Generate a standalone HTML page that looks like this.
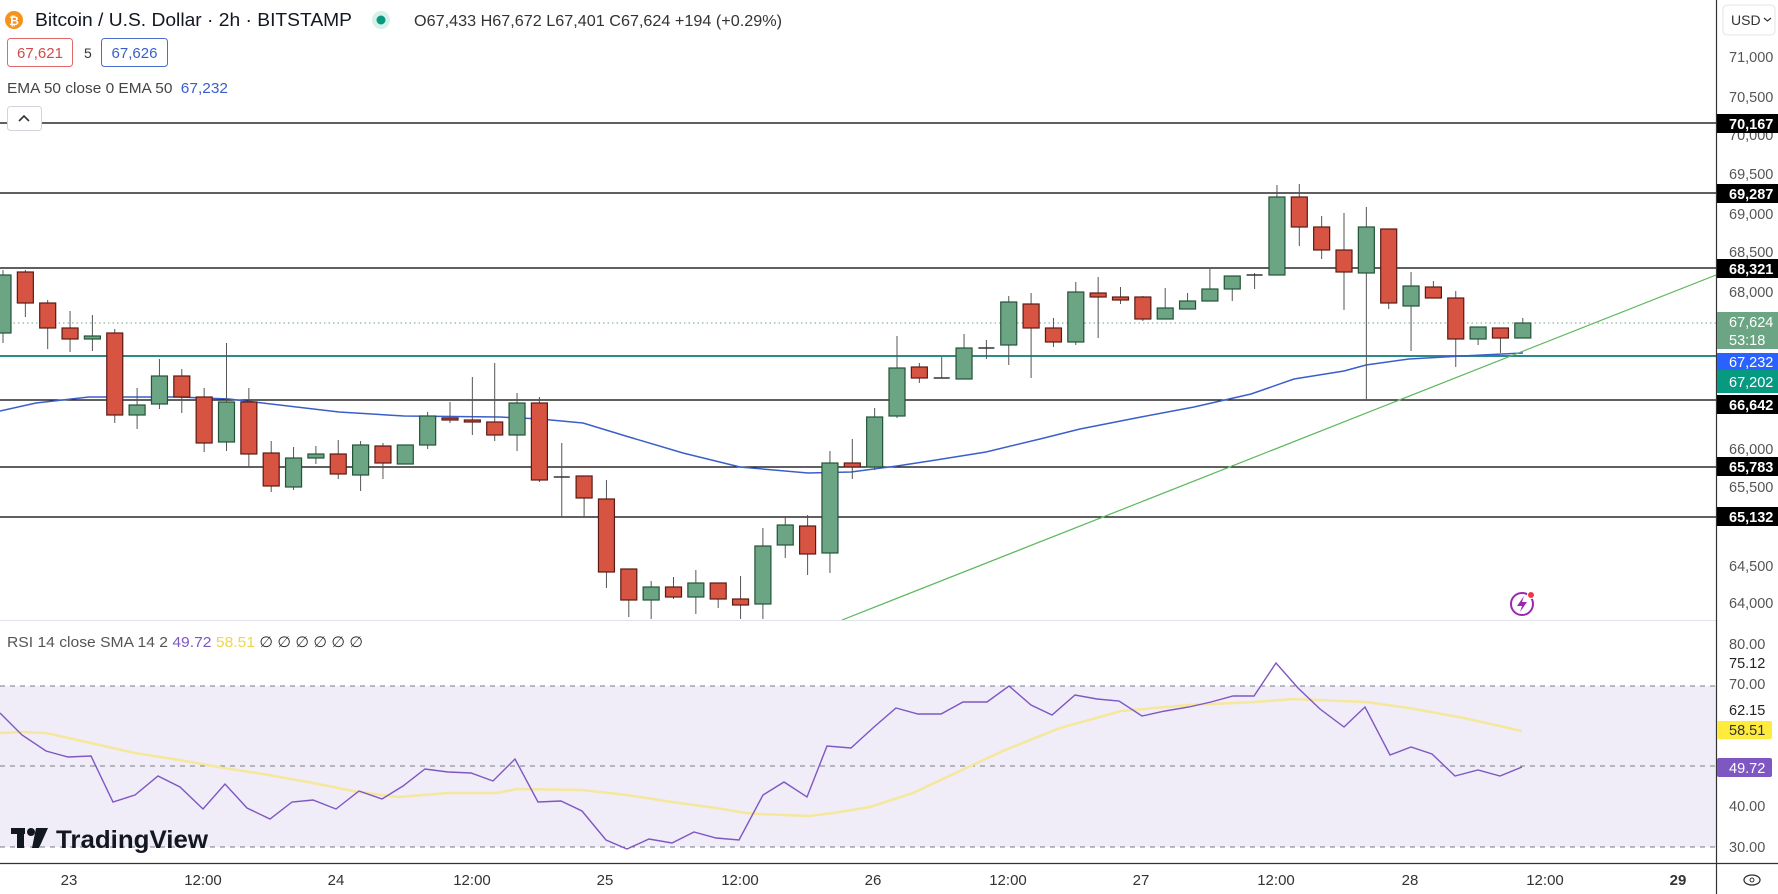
<!DOCTYPE html>
<html><head><meta charset="utf-8"><style>
html,body{margin:0;padding:0;background:#fff;width:1778px;height:894px;overflow:hidden;font-family:"Liberation Sans",sans-serif;}
svg{position:absolute;left:0;top:0}
</style></head><body>
<svg width="1778" height="894" viewBox="0 0 1778 894" xmlns="http://www.w3.org/2000/svg" font-family="Liberation Sans, sans-serif">
<defs><clipPath id="c"><rect x="0" y="0" width="1716" height="620"/></clipPath><clipPath id="r"><rect x="0" y="621" width="1716" height="242"/></clipPath></defs>
<g stroke="#000" stroke-width="1.3">
<line x1="0" y1="123" x2="1716" y2="123"/><line x1="0" y1="193" x2="1716" y2="193"/><line x1="0" y1="268" x2="1716" y2="268"/>
<line x1="0" y1="400" x2="1716" y2="400"/><line x1="0" y1="467" x2="1716" y2="467"/><line x1="0" y1="517" x2="1716" y2="517"/>
</g>
<line x1="0" y1="323" x2="1716" y2="323" stroke="#6ba583" stroke-dasharray="1.5 3" stroke-width="1"/>
<line x1="0" y1="356" x2="1716" y2="356" stroke="#2a8a8c" stroke-width="2"/>
<g clip-path="url(#c)">
<polyline fill="none" stroke="#3a5fc8" stroke-width="1.5" points="0,411 36,403 89,397 179,397 229,399 339,412 404,416 500,417 540,419 583,423 629,437 683,453 740,467 808,473 851,472 897,466 936,460 986,452 1040,439 1080,429 1141,417 1194,407 1251,394 1294,379 1344,371 1366,365 1409,359 1462,356 1523,353"/>
<line x1="842" y1="620" x2="1716" y2="275" stroke="#5cb85c" stroke-width="1.2"/>
<g stroke="#555" stroke-width="1">
<line x1="3" y1="270" x2="3" y2="343"/><line x1="25.35" y1="270" x2="25.35" y2="317"/><line x1="47.7" y1="300" x2="47.7" y2="349"/><line x1="70.05" y1="311" x2="70.05" y2="352"/><line x1="92.4" y1="315" x2="92.4" y2="351"/><line x1="114.75" y1="329" x2="114.75" y2="423"/><line x1="137.1" y1="388" x2="137.1" y2="429"/><line x1="159.45" y1="359" x2="159.45" y2="409"/><line x1="181.8" y1="369" x2="181.8" y2="413"/><line x1="204.15" y1="388" x2="204.15" y2="452"/><line x1="226.5" y1="343" x2="226.5" y2="451"/><line x1="248.85" y1="388" x2="248.85" y2="467"/><line x1="271.2" y1="441" x2="271.2" y2="492"/><line x1="293.55" y1="447" x2="293.55" y2="490"/><line x1="315.9" y1="446" x2="315.9" y2="464"/><line x1="338.25" y1="440" x2="338.25" y2="479"/><line x1="360.6" y1="441" x2="360.6" y2="491"/><line x1="382.95" y1="443" x2="382.95" y2="479"/><line x1="405.3" y1="445" x2="405.3" y2="464"/><line x1="427.65" y1="412" x2="427.65" y2="449"/><line x1="450" y1="402" x2="450" y2="423"/><line x1="472.35" y1="377" x2="472.35" y2="435"/><line x1="494.7" y1="363" x2="494.7" y2="441"/><line x1="517.05" y1="393" x2="517.05" y2="451"/><line x1="539.4" y1="397" x2="539.4" y2="482"/><line x1="561.75" y1="443" x2="561.75" y2="517"/><line x1="584.1" y1="476" x2="584.1" y2="518"/><line x1="606.45" y1="480" x2="606.45" y2="588"/><line x1="628.8" y1="569" x2="628.8" y2="617"/><line x1="651.15" y1="581" x2="651.15" y2="619"/><line x1="673.5" y1="577" x2="673.5" y2="599"/><line x1="695.85" y1="570" x2="695.85" y2="614"/><line x1="718.2" y1="583" x2="718.2" y2="608"/><line x1="740.55" y1="576" x2="740.55" y2="619"/><line x1="762.9" y1="528" x2="762.9" y2="619"/><line x1="785.25" y1="516" x2="785.25" y2="558"/><line x1="807.6" y1="515" x2="807.6" y2="575"/><line x1="829.95" y1="451" x2="829.95" y2="573"/><line x1="852.3" y1="439" x2="852.3" y2="479"/><line x1="874.65" y1="408" x2="874.65" y2="470"/><line x1="897" y1="336" x2="897" y2="418"/><line x1="919.35" y1="363" x2="919.35" y2="383"/><line x1="941.7" y1="357" x2="941.7" y2="378"/><line x1="964.05" y1="334" x2="964.05" y2="379"/><line x1="986.4" y1="340" x2="986.4" y2="359"/><line x1="1008.75" y1="296" x2="1008.75" y2="365"/><line x1="1031.1" y1="293" x2="1031.1" y2="378"/><line x1="1053.45" y1="318" x2="1053.45" y2="347"/><line x1="1075.8" y1="282" x2="1075.8" y2="345"/><line x1="1098.15" y1="277" x2="1098.15" y2="338"/><line x1="1120.5" y1="287" x2="1120.5" y2="304"/><line x1="1142.85" y1="296" x2="1142.85" y2="321"/><line x1="1165.2" y1="288" x2="1165.2" y2="319"/><line x1="1187.55" y1="293" x2="1187.55" y2="309"/><line x1="1209.9" y1="269" x2="1209.9" y2="301"/><line x1="1232.25" y1="276" x2="1232.25" y2="301"/><line x1="1254.6" y1="273" x2="1254.6" y2="289"/><line x1="1276.95" y1="185" x2="1276.95" y2="275"/><line x1="1299.3" y1="184" x2="1299.3" y2="246"/><line x1="1321.65" y1="216" x2="1321.65" y2="259"/><line x1="1344" y1="213" x2="1344" y2="310"/><line x1="1366.35" y1="207" x2="1366.35" y2="400"/><line x1="1388.7" y1="229" x2="1388.7" y2="309"/><line x1="1411.05" y1="272" x2="1411.05" y2="351"/><line x1="1433.4" y1="281" x2="1433.4" y2="298"/><line x1="1455.75" y1="291" x2="1455.75" y2="367"/><line x1="1478.1" y1="327" x2="1478.1" y2="345"/><line x1="1500.45" y1="328" x2="1500.45" y2="353"/><line x1="1522.8" y1="318" x2="1522.8" y2="338"/>
</g>
<g fill="#6ba583" stroke="#225437" stroke-width="1.2">
<rect x="-5" y="275" width="16" height="58"/><rect x="84.4" y="336" width="16" height="3"/><rect x="129.1" y="405" width="16" height="10"/><rect x="151.45" y="376" width="16" height="28"/><rect x="218.5" y="402" width="16" height="40"/><rect x="285.55" y="458" width="16" height="29"/><rect x="307.9" y="454" width="16" height="4"/><rect x="352.6" y="445" width="16" height="30"/><rect x="397.3" y="445" width="16" height="19"/><rect x="419.65" y="416" width="16" height="29"/><rect x="509.05" y="403" width="16" height="32"/><rect x="643.15" y="587" width="16" height="13"/><rect x="687.85" y="583" width="16" height="14"/><rect x="754.9" y="546" width="16" height="58"/><rect x="777.25" y="525" width="16" height="20"/><rect x="821.95" y="463" width="16" height="90"/><rect x="866.65" y="417" width="16" height="50"/><rect x="889" y="368" width="16" height="48"/><rect x="956.05" y="348" width="16" height="31"/><rect x="1000.75" y="302" width="16" height="43"/><rect x="1067.8" y="292" width="16" height="50"/><rect x="1157.2" y="308" width="16" height="11"/><rect x="1179.55" y="301" width="16" height="8"/><rect x="1201.9" y="289" width="16" height="12"/><rect x="1224.25" y="276" width="16" height="13"/><rect x="1268.95" y="197" width="16" height="78"/><rect x="1358.35" y="227" width="16" height="46"/><rect x="1403.05" y="286" width="16" height="20"/><rect x="1470.1" y="327" width="16" height="12"/><rect x="1514.8" y="323" width="16" height="15"/>
</g>
<g fill="#d75442" stroke="#5b1a13" stroke-width="1.2">
<rect x="17.35" y="272" width="16" height="31"/><rect x="39.7" y="303" width="16" height="25"/><rect x="62.05" y="328" width="16" height="11"/><rect x="106.75" y="333" width="16" height="82"/><rect x="173.8" y="376" width="16" height="21"/><rect x="196.15" y="397" width="16" height="46"/><rect x="240.85" y="402" width="16" height="52"/><rect x="263.2" y="453" width="16" height="33"/><rect x="330.25" y="454" width="16" height="20"/><rect x="374.95" y="446" width="16" height="17"/><rect x="442" y="418" width="16" height="2"/><rect x="464.35" y="420" width="16" height="2"/><rect x="486.7" y="422" width="16" height="13"/><rect x="531.4" y="403" width="16" height="77"/><rect x="576.1" y="476" width="16" height="22"/><rect x="598.45" y="499" width="16" height="73"/><rect x="620.8" y="569" width="16" height="31"/><rect x="665.5" y="587" width="16" height="10"/><rect x="710.2" y="583" width="16" height="16"/><rect x="732.55" y="599" width="16" height="6"/><rect x="799.6" y="526" width="16" height="28"/><rect x="844.3" y="463" width="16" height="4"/><rect x="911.35" y="367" width="16" height="11"/><rect x="1023.1" y="304" width="16" height="24"/><rect x="1045.45" y="328" width="16" height="14"/><rect x="1090.15" y="293" width="16" height="4"/><rect x="1112.5" y="297" width="16" height="3"/><rect x="1134.85" y="297" width="16" height="22"/><rect x="1291.3" y="197" width="16" height="30"/><rect x="1313.65" y="227" width="16" height="23"/><rect x="1336" y="250" width="16" height="22"/><rect x="1380.7" y="229" width="16" height="74"/><rect x="1425.4" y="287" width="16" height="11"/><rect x="1447.75" y="298" width="16" height="41"/><rect x="1492.45" y="328" width="16" height="10"/>
</g>
<g stroke="#333" stroke-width="1.5">
<line x1="553.75" y1="477" x2="569.75" y2="477"/><line x1="933.7" y1="378" x2="949.7" y2="378"/><line x1="978.4" y1="348" x2="994.4" y2="348"/><line x1="1246.6" y1="275" x2="1262.6" y2="275"/>
</g>
</g>
<circle cx="1522" cy="604" r="11" fill="none" stroke="#9c27b0" stroke-width="2"/>
<path d="M1524 596 L1517 606 L1522 606 L1520 612 L1527 602 L1522 602 Z" fill="#9c27b0"/>
<circle cx="1531" cy="595" r="3.5" fill="#f23645" stroke="#fff" stroke-width="1"/>
<line x1="0" y1="620.5" x2="1716" y2="620.5" stroke="#e0e3eb" stroke-width="1"/>
<rect x="0" y="686" width="1716" height="161" fill="#f0ecf8"/>
<g stroke="#787b86" stroke-dasharray="5 5" stroke-width="1">
<line x1="0" y1="686" x2="1716" y2="686"/><line x1="0" y1="766" x2="1716" y2="766"/><line x1="0" y1="847" x2="1716" y2="847"/>
</g>
<g clip-path="url(#r)">
<polyline fill="none" stroke="#f5e79c" stroke-width="2.5" points="0,733 22,732 46,733 91,743 135,753 179,760 224,768 269,775 313,783 358,792 398,797 448,793 497,793 517,789 582,790 627,795 672,802 716,808 746,813 760,814 809,816 833,813 870,807 913,793 962,770 1005,750 1060,728 1121,711 1189,705 1256,702 1293,699 1366,702 1409,708 1464,718 1522,731"/>
<polyline fill="none" stroke="#7e57c2" stroke-width="1.4" points="0,713 22,735 46,751 68,757 91,756 113,802 135,795 158,776 180,787 203,809 225,784 247,808 270,819 292,802 313,800 336,809 359,791 382,799 403,786 425,769 448,772 471,773 493,781 515,759 538,802 561,801 582,811 606,840 627,849 649,839 672,843 694,832 716,838 739,840 763,795 784,782 807,797 827,746 851,748 874,727 896,708 918,714 941,714 963,702 987,702 1009,686 1031,705 1052,715 1075,695 1097,699 1119,701 1142,716 1165,711 1189,707 1211,702 1233,696 1254,696 1276,663 1298,688 1320,709 1344,727 1365,707 1390,755 1411,747 1432,754 1455,776 1478,770 1500,776 1522,767"/>
</g>
<text x="7" y="647" font-size="15" fill="#555" textLength="356" lengthAdjust="spacingAndGlyphs">RSI 14 close SMA 14 2 <tspan fill="#7e57c2">49.72</tspan> <tspan fill="#f0d64a">58.51</tspan> <tspan fill="#333">∅ ∅ ∅ ∅ ∅ ∅</tspan></text>
<g fill="#131722"><rect x="11" y="828" width="14" height="6"/><rect x="17" y="828" width="7" height="20"/><circle cx="31" cy="832" r="4"/><path d="M36 828 L48 828 L39 848 L32 848 Z"/></g>
<text x="56" y="848" font-size="25" font-weight="bold" fill="#131722" textLength="152" lengthAdjust="spacingAndGlyphs">TradingView</text>
<line x1="0" y1="863.5" x2="1778" y2="863.5" stroke="#333" stroke-width="1.2"/>
<g font-size="15" fill="#333" text-anchor="middle">
<text x="69" y="885">23</text><text x="203" y="885">12:00</text><text x="336" y="885">24</text><text x="472" y="885">12:00</text><text x="605" y="885">25</text><text x="740" y="885">12:00</text><text x="873" y="885">26</text><text x="1008" y="885">12:00</text><text x="1141" y="885">27</text><text x="1276" y="885">12:00</text><text x="1410" y="885">28</text><text x="1545" y="885">12:00</text><text x="1678" y="885" font-weight="bold">29</text>
</g>
<line x1="1716.5" y1="0" x2="1716.5" y2="894" stroke="#333" stroke-width="1.2"/>
<rect x="1723" y="5" width="52" height="30" rx="4" fill="#fff" stroke="#e0e3eb"/>
<text x="1731" y="25" font-size="14" fill="#333">USD</text><path d="M1764 18 L1767.5 21 L1771 18" fill="none" stroke="#333" stroke-width="1.2"/>
<g font-size="14.5" fill="#555">
<text x="1729" y="62">71,000</text><text x="1729" y="102">70,500</text><text x="1729" y="140">70,000</text><text x="1729" y="179">69,500</text><text x="1729" y="219">69,000</text><text x="1729" y="257">68,500</text><text x="1729" y="297">68,000</text><text x="1729" y="454">66,000</text><text x="1729" y="492">65,500</text><text x="1729" y="571">64,500</text><text x="1729" y="608">64,000</text>
<text x="1729" y="649">80.00</text><text x="1729" y="668" fill="#222">75.12</text><text x="1729" y="689">70.00</text><text x="1729" y="715" fill="#222">62.15</text><text x="1729" y="811">40.00</text><text x="1729" y="852">30.00</text>
</g>
<g font-size="14.5" font-weight="bold" fill="#fff">
<rect x="1717" y="114" width="61" height="19" fill="#000"/><text x="1729" y="129">70,167</text>
<rect x="1717" y="184" width="61" height="19" fill="#000"/><text x="1729" y="199">69,287</text>
<rect x="1717" y="259" width="61" height="19" fill="#000"/><text x="1729" y="274">68,321</text>
<rect x="1717" y="312" width="61" height="37" fill="#6ba583"/><text x="1729" y="327" font-weight="normal">67,624</text><text x="1729" y="345" font-weight="normal">53:18</text>
<rect x="1717" y="353" width="61" height="17" fill="#2962ff"/><text x="1729" y="367" font-weight="normal">67,232</text>
<rect x="1717" y="370" width="61" height="23" fill="#089981"/><text x="1729" y="387" font-weight="normal">67,202</text>
<rect x="1717" y="395" width="61" height="19" fill="#000"/><text x="1729" y="410">66,642</text>
<rect x="1717" y="457" width="61" height="19" fill="#000"/><text x="1729" y="472">65,783</text>
<rect x="1717" y="507" width="61" height="19" fill="#000"/><text x="1729" y="522">65,132</text>
<rect x="1717" y="721" width="55" height="18" rx="2" fill="#ffeb3b"/><text x="1729" y="735" fill="#333" font-weight="normal">58.51</text>
<rect x="1717" y="758" width="55" height="19" rx="2" fill="#7e57c2"/><text x="1729" y="773" font-weight="normal">49.72</text>
</g>
<ellipse cx="1752" cy="880" rx="8" ry="5" fill="none" stroke="#333" stroke-width="1.3"/><circle cx="1752" cy="880" r="2" fill="none" stroke="#333"/>
<circle cx="14" cy="20" r="9" fill="#f7931a"/><text x="14" y="25" font-size="12" font-weight="bold" fill="#fff" text-anchor="middle">₿</text>
<text x="35" y="26" font-size="18" fill="#131722" textLength="317" lengthAdjust="spacingAndGlyphs">Bitcoin / U.S. Dollar · 2h · BITSTAMP</text>
<circle cx="381" cy="20" r="9" fill="#d6f0ea"/><circle cx="381" cy="20" r="4.5" fill="#089981"/>
<text x="414" y="26" font-size="16" fill="#333" textLength="368" lengthAdjust="spacingAndGlyphs">O67,433 H67,672 L67,401 C67,624 +194 (+0.29%)</text>
<rect x="7.5" y="38.5" width="65" height="28" rx="3" fill="#fff" stroke="#e06a6a"/><text x="40" y="58" font-size="15" fill="#d14b4b" text-anchor="middle">67,621</text>
<text x="84" y="58" font-size="14" fill="#333">5</text>
<rect x="101.5" y="38.5" width="66" height="28" rx="3" fill="#fff" stroke="#4a6fc8"/><text x="134.5" y="58" font-size="15" fill="#3a5fc8" text-anchor="middle">67,626</text>
<text x="7" y="93" font-size="15" fill="#444" textLength="221" lengthAdjust="spacingAndGlyphs">EMA 50 close 0 EMA 50 <tspan dx="4" fill="#3a5fc8">67,232</tspan></text>
<rect x="7.5" y="106.5" width="34" height="24" rx="3" fill="#fff" stroke="#d0d3db"/><path d="M19 121 L24 116 L29 121" fill="none" stroke="#333" stroke-width="1.6"/>
</svg>
</body></html>
